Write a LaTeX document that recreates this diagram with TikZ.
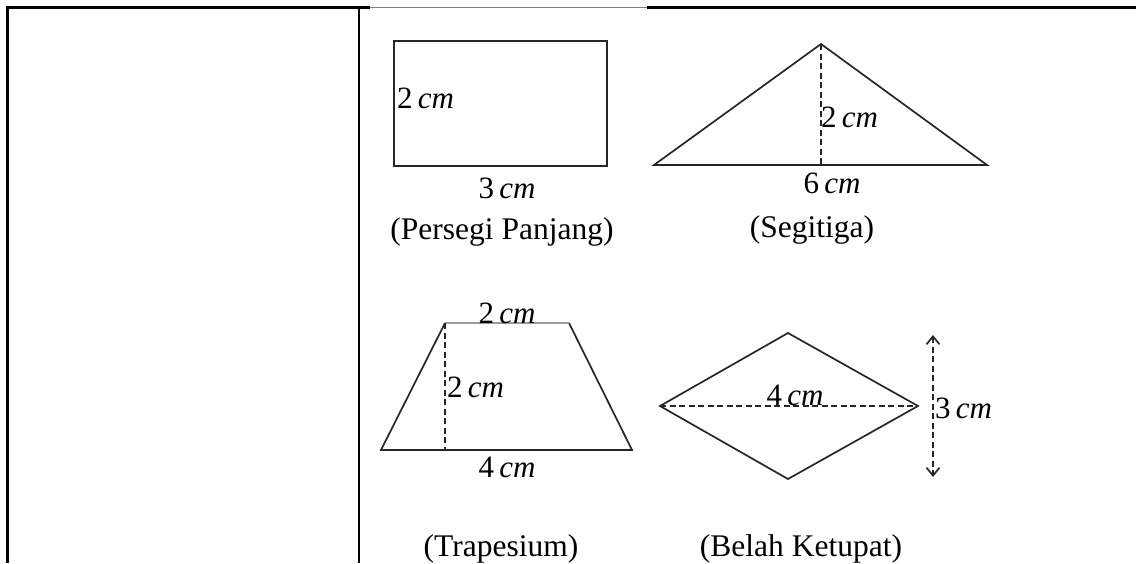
\documentclass[tikz,border=0pt]{standalone}
\usepackage{fontspec}
\setmainfont{Liberation Serif}
\usetikzlibrary{arrows.meta}
\tikzset{
  border/.style={line width=2.2pt, black},
  thinborder/.style={line width=1pt, black!50},
  figline/.style={line width=1.7pt, black!85, line join=miter},
  greyedge/.style={line width=2pt, black!40},
  dim/.style={line width=1.6pt, black!85, dash pattern=on 6pt off 3.5pt},
  lbl/.style={inner sep=0pt, font=\fontsize{31}{36}\selectfont},
  caption/.style={inner sep=0pt, font=\fontsize{31.5}{36}\selectfont},
  dimarrows/.style={{Straight Barb[length=8pt,width=13pt,line width=1.7pt]}-{Straight Barb[length=8pt,width=13pt,line width=1.7pt]}},
}
\newcommand{\cmlab}[1]{#1\,\textit{cm}}
\begin{document}
\begin{tikzpicture}[x=1pt,y=-1pt]
\useasboundingbox (0,0) rectangle (1136,563);
% table lines
\coordinate (tl) at (7.5,7.5);
\coordinate (bl) at (7.5,563);
\coordinate (dt) at (359,7.5);
\coordinate (db) at (359,563);
\coordinate (g1) at (370,7.5);
\coordinate (g2) at (647,7.5);
\coordinate (tr) at (1136,7.5);
\draw[border] (bl) -- (tl) -- (g1);
\draw[thinborder] (g1) -- (g2);
\draw[border] (g2) -- (tr);
\draw[border] (dt) -- (db);
% rectangle
\coordinate (r1) at (394,41);
\coordinate (r2) at (607,166);
\draw[figline] (r1) rectangle (r2);
\node[lbl, anchor=west] (rh) at (397,98) {\cmlab{2}};
\node[lbl] (rw) at (507,188) {\cmlab{3}};
\node[caption] (rc) at (502,232) {(Persegi Panjang)};
% triangle
\coordinate (ta) at (821,44);
\coordinate (tb1) at (654,165);
\coordinate (tb2) at (987,165);
\coordinate (tf) at (821,165);
\draw[figline] (tb1) -- (ta) -- (tb2) -- cycle;
\draw[dim] (ta) -- (tf);
\node[lbl, anchor=west] (th) at (821,117) {\cmlab{2}};
\node[lbl] (tw) at (832,183) {\cmlab{6}};
\node[caption] (tc) at (812,230) {(Segitiga)};
% trapezoid
\coordinate (p1) at (445,323);
\coordinate (p2) at (569,323);
\coordinate (p3) at (632,450);
\coordinate (p4) at (381,450);
\coordinate (pf) at (445,450);
\draw[figline] (p1) -- (p4) -- (p3) -- (p2);
\draw[greyedge] (p1) -- (p2);
\draw[dim] (p1) -- (pf);
\node[lbl] (pt) at (507,313) {\cmlab{2}};
\node[lbl, anchor=west] (ph) at (447,387) {\cmlab{2}};
\node[lbl] (pb) at (507,467) {\cmlab{4}};
\node[caption] (pc) at (501,549) {(Trapesium)};
% rhombus
\coordinate (k1) at (660,406);
\coordinate (k2) at (788,333);
\coordinate (k3) at (918,406);
\coordinate (k4) at (788,479);
\draw[figline] (k1) -- (k2) -- (k3) -- (k4) -- cycle;
\draw[dim] (k1) -- (k3);
\node[lbl] (kd) at (795,395) {\cmlab{4}};
\coordinate (a1) at (933,335);
\coordinate (a2) at (933,477);
\draw[dim, dimarrows] (a1) -- (a2);
\node[lbl, anchor=west] (kh) at (935,408) {\cmlab{3}};
\node[caption] (kc) at (801,549) {(Belah Ketupat)};
\end{tikzpicture}
\end{document}
